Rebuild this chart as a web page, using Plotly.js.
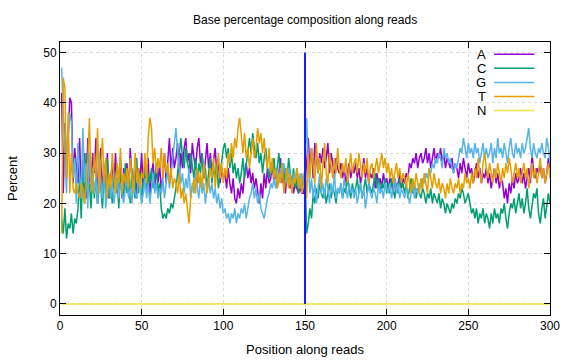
<!DOCTYPE html>
<html>
<head>
<meta charset="utf-8">
<script src="https://cdn.plot.ly/plotly-3.0.1.min.js"></script>
<style>html,body{margin:0;padding:0;background:#fff;}#chart{width:576px;height:360px;}</style>
</head>
<body>
<div id="chart"></div>
<script>
const bases = ["A", "C", "G", "T", "N"];
const colors = ["#9400d3", "#009e73", "#56b4e9", "#e69f00", "#f0e442"];
const xTicks = [0, 50, 100, 150, 200, 250, 300];
const yTicks = [0, 10, 20, 30, 40, 50];
const markerX = [150, 150];
const markerY = [0, 50];

const valsA = [
42,22,36,26,33,41,40,24,31,27,
24,33,22,28,30,21,33,25,23,30,
26,33,20,28,31,22,27,24,30,21,
25,28,23,30,22,26,29,21,27,24,
28,22,31,25,23,29,21,27,25,30,
22,27,24,29,21,26,28,23,27,24,
28,22,26,30,24,29,33,26,31,27,
29,32,25,30,27,31,33,28,30,26,
32,29,27,31,33,28,30,25,29,32,
27,30,26,29,31,26,28,24,27,25,
26,23,27,24,22,25,21,20,23,21,
24,22,26,28,25,27,24,26,23,25,
22,20,24,21,26,23,27,24,25,28,
24,27,23,26,29,24,27,22,26,24,
23,25,22,24,23,22,23,22,22,24,
28,33,27,31,25,32,29,26,30,28,
31,27,29,32,26,30,28,25,29,27,
26,28,25,27,24,26,28,25,27,26,
28,25,27,24,26,29,25,27,24,26,
25,27,23,26,24,25,23,26,24,25,
23,25,24,22,25,23,24,26,23,25,
24,26,25,28,27,29,28,30,27,29,
30,28,29,31,28,30,27,29,31,28,
30,29,31,28,30,27,29,28,27,29,
26,28,27,25,28,26,29,27,25,28,
26,27,24,26,28,25,27,24,26,25,
27,24,26,23,25,27,24,26,23,25,
24,21,23,20,24,22,25,23,26,24,
25,27,24,26,23,25,27,24,30,26,
25,27,26,28,25,27,24,26,29,27
];
const valsC = [
17,14,19,13,16,15,18,14,17,16,
19,25,17,28,20,30,22,24,19,27,
21,25,20,28,23,19,26,22,29,21,
24,20,27,22,25,19,26,23,21,28,
22,25,20,27,23,21,29,22,26,20,
25,28,22,26,24,27,23,25,28,22,
24,19,17,18,17,19,18,20,19,21,
23,26,30,33,29,27,31,28,26,30,
27,25,29,24,28,26,30,25,27,23,
26,29,24,27,25,28,23,26,29,31,
32,29,31,27,30,26,28,25,27,24,
26,29,25,28,31,33,30,34,31,29,
32,28,30,26,29,31,27,25,28,26,
29,25,27,30,26,28,24,27,25,29,
26,24,27,23,25,22,24,23,25,26,
14,16,19,17,22,20,23,21,24,22,
21,23,20,22,24,21,23,22,20,23,
22,24,21,23,22,25,23,21,24,22,
23,25,22,24,21,23,25,22,24,23,
22,24,26,23,25,22,24,23,25,22,
24,22,25,23,21,24,22,25,23,24,
22,24,21,23,25,22,24,21,23,22,
21,23,22,20,22,21,23,20,22,21,
20,22,19,21,20,18,20,19,18,20,
19,21,20,22,21,23,22,20,21,22,
20,18,19,17,19,16,18,17,19,16,
18,17,15,18,16,19,17,18,16,19,
18,20,17,15,18,20,19,21,18,20,
22,19,21,18,20,23,19,17,20,22,
21,23,18,16,19,21,17,20,22,20
];
const valsG = [
47,40,30,22,34,38,36,25,29,20,
32,26,21,35,24,28,19,30,23,27,
22,25,20,30,24,21,28,19,23,26,
21,24,20,23,25,21,24,22,20,23,
25,21,23,20,24,22,21,25,23,20,
22,25,21,24,20,23,26,22,24,21,
23,22,25,21,24,27,23,26,29,31,
35,30,27,24,26,22,25,23,27,21,
24,22,26,23,21,25,22,24,20,23,
25,22,24,21,23,20,22,19,21,18,
19,17,18,16,18,17,19,16,18,17,
19,18,20,17,19,21,22,24,21,23,
20,22,19,18,17,19,21,22,24,23,
25,23,26,24,27,25,28,26,24,27,
25,23,26,24,27,25,23,26,24,27,
37,28,22,25,21,24,20,23,26,22,
24,21,25,23,20,24,22,26,21,23,
22,24,21,25,23,21,24,22,23,21,
23,20,22,24,21,23,19,22,24,22,
21,23,22,20,24,22,23,21,24,23,
22,24,21,23,25,22,24,21,23,22,
21,23,22,20,22,24,21,23,22,24,
23,25,24,26,25,27,26,28,27,29,
28,30,29,27,31,29,30,28,29,27,
26,28,27,29,31,30,33,31,29,32,
30,31,29,32,30,31,28,30,32,29,
31,29,30,32,28,31,29,33,30,31,
29,32,30,28,31,33,30,29,32,30,
31,29,32,30,31,33,35,31,29,32,
30,29,31,30,32,30,29,33,31,28
];
const valsT = [
14,45,43,25,38,22,30,23,22,24,
22,21,24,23,20,25,28,37,24,22,
30,25,35,22,27,33,24,29,21,26,
23,30,25,22,28,24,31,22,26,24,
27,23,29,25,22,30,24,27,23,26,
25,30,24,33,37,35,28,31,26,29,
27,31,25,30,26,28,24,27,23,25,
24,22,26,21,23,20,22,19,16,21,
23,25,22,27,24,26,23,28,25,22,
24,27,25,29,23,26,30,25,28,24,
27,25,30,28,32,29,33,31,35,37,
33,30,34,29,31,27,30,33,29,31,
35,32,34,30,33,29,27,31,26,29,
25,27,23,26,24,28,22,25,27,23,
26,22,25,24,27,23,26,22,24,27,
21,30,25,31,27,24,32,26,29,23,
28,32,26,24,30,27,25,29,26,31,
27,25,28,26,29,24,27,30,26,28,
29,26,30,27,25,28,26,29,24,27,
28,25,27,29,26,28,30,27,29,26,
28,25,27,24,26,28,25,27,24,26,
25,23,26,24,22,25,23,26,24,22,
25,23,26,24,22,27,25,23,26,24,
23,25,22,24,23,21,24,22,25,23,
22,24,23,25,22,24,23,26,24,25,
23,26,24,27,25,29,26,24,28,30,
27,25,28,26,24,27,25,28,26,24,
27,25,28,26,29,27,24,26,28,25,
27,24,26,28,25,27,23,26,28,25,
27,24,26,29,25,27,24,26,28,25
];
const valsN = valsA.map(() => 0);
const positions = valsA.map((_, i) => i + 1);

const series = [valsA, valsC, valsG, valsT, valsN];
const traces = series.map((v, i) => ({
  x: positions, y: v, type: "scatter", mode: "lines", name: bases[i],
  line: {color: colors[i], width: 1.5}, showlegend: false, hoverinfo: "skip"
}));
traces.push({x: markerX, y: markerY, type: "scatter", mode: "lines",
  line: {color: "#1a1aff", width: 2}, showlegend: false, hoverinfo: "skip"});

const annotations = [{
  text: "Base percentage composition along reads", xref: "paper", yref: "paper",
  x: 0.5, y: 1, yshift: 22, showarrow: false, xanchor: "center", yanchor: "middle",
  font: {size: 12, color: "#000"}
}];
const shapes = [];
bases.forEach((b, i) => {
  const yp = 0.955 - i * 0.0515;
  annotations.push({text: b, xref: "paper", yref: "paper", x: 0.873, y: yp,
    xanchor: "right", yanchor: "middle", showarrow: false, font: {size: 13, color: "#000"}});
  shapes.push({type: "line", xref: "paper", yref: "paper", x0: 0.886, x1: 0.968, y0: yp, y1: yp,
    line: {color: colors[i], width: 1.5}});
});

const axisCommon = {
  showline: true, linecolor: "#000", linewidth: 1, mirror: "ticks",
  ticks: "inside", ticklen: 6, tickcolor: "#000", tickwidth: 1,
  showgrid: true, gridcolor: "#dadada", griddash: "dot", gridwidth: 1,
  zeroline: false, tickfont: {size: 12, color: "#000"}
};

const layout = {
  width: 576, height: 360,
  margin: {l: 60, r: 26, t: 42, b: 45},
  paper_bgcolor: "#fff", plot_bgcolor: "#fff",
  font: {family: "Liberation Sans, Arial, sans-serif", color: "#000"},
  xaxis: Object.assign({}, axisCommon, {range: [0, 300], tickvals: xTicks,
    title: {text: "Position along reads", font: {size: 13}, standoff: 12}}),
  yaxis: Object.assign({}, axisCommon, {range: [-2.2, 52.1], tickvals: yTicks,
    title: {text: "Percent", font: {size: 13}, standoff: 22}}),
  annotations: annotations, shapes: shapes
};

Plotly.newPlot("chart", traces, layout, {displayModeBar: false, staticPlot: true});
</script>
</body>
</html>
